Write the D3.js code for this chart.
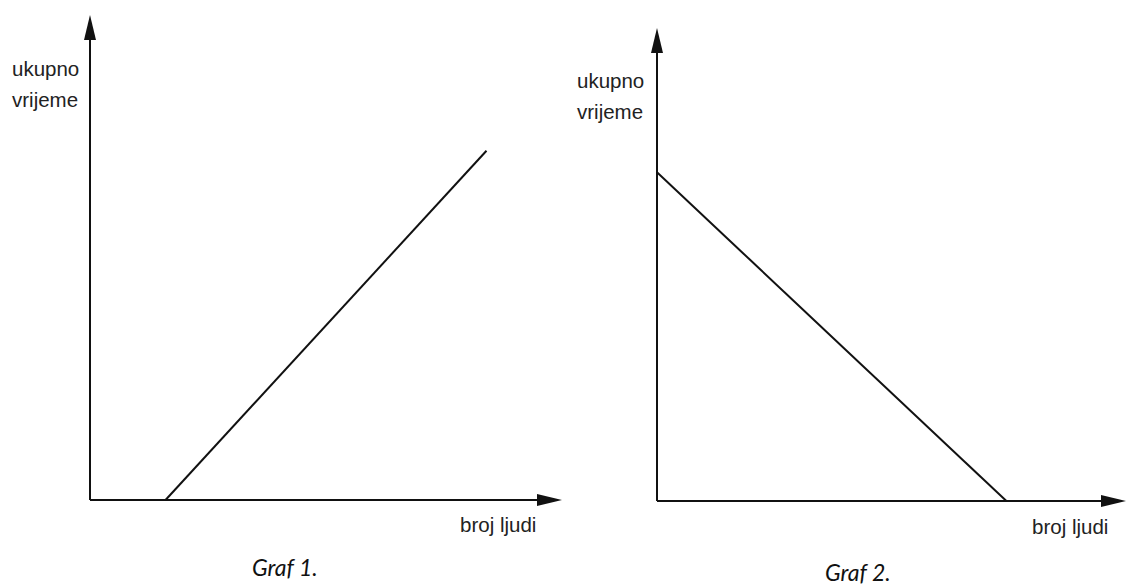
<!DOCTYPE html>
<html>
<head>
<meta charset="utf-8">
<script src="https://cdn.jsdelivr.net/npm/d3@7"></script>
<style>
  body { margin: 0; background: #fff; }
  svg { display: block; }
  .lbl { font-family: "Liberation Sans", Arial, sans-serif; font-size: 20.5px; fill: #222; }
  .cap { font-family: Lato, "Open Sans", sans-serif; font-style: italic; font-size: 23px; fill: #111; }
</style>
</head>
<body>
<svg id="chart"></svg>
<script>
// axis labels
var yLabel = ['ukupno', 'vrijeme'],
    xLabel = 'broj ljudi',
    captions = ['Graf 1.', 'Graf 2.'];

// line endpoints, in axis units (0..100)
var graf1X = [16, 84],
    graf1Y = [0, 72];
var graf2X = [0, 74.5],
    graf2Y = [69.5, 0];

var width = 1127, height = 585;
var svg = d3.select('#chart').attr('width', width).attr('height', height);

var panels = [
    { x: graf1X, y: graf1Y, ox: 90, oy: 500, xEnd: 562, yEnd: 15,
      yl: [12, 76], xl: [460, 532], cap: [252, 576] },
    { x: graf2X, y: graf2Y, ox: 657, oy: 501, xEnd: 1126, yEnd: 28,
      yl: [577, 88], xl: [1032, 534], cap: [825, 581] }
];

panels.forEach(function(p, i) {
    var g = svg.append('g');

    var x = d3.scaleLinear().domain([0, 100]).range([p.ox, p.xEnd]),
        y = d3.scaleLinear().domain([0, 100]).range([p.oy, p.yEnd]);

    // axes
    g.append('line')
        .attr('x1', x(0)).attr('y1', y(0))
        .attr('x2', x(100) - 10).attr('y2', y(0))
        .attr('stroke', '#111').attr('stroke-width', 2);
    g.append('line')
        .attr('x1', x(0)).attr('y1', y(0))
        .attr('x2', x(0)).attr('y2', y(100) + 10)
        .attr('stroke', '#111').attr('stroke-width', 2);

    // arrow heads
    var ax = x(100), ay = y(0);
    g.append('path')
        .attr('d', 'M' + ax + ',' + ay + 'L' + (ax - 25) + ',' + (ay - 6) + 'L' + (ax - 25) + ',' + (ay + 6) + 'Z')
        .attr('fill', '#111');
    var bx = x(0), by = y(100);
    g.append('path')
        .attr('d', 'M' + bx + ',' + by + 'L' + (bx - 6) + ',' + (by + 25) + 'L' + (bx + 6) + ',' + (by + 25) + 'Z')
        .attr('fill', '#111');

    // the line
    var line = d3.line()
        .x(function(d) { return x(d[0]); })
        .y(function(d) { return y(d[1]); });
    g.append('path')
        .datum(d3.zip(p.x, p.y))
        .attr('d', line)
        .attr('fill', 'none')
        .attr('stroke', '#111')
        .attr('stroke-width', 2);

    // labels
    var t = g.append('text').attr('class', 'lbl')
        .attr('x', p.yl[0]).attr('y', p.yl[1]);
    t.selectAll('tspan').data(yLabel).enter().append('tspan')
        .attr('x', p.yl[0])
        .attr('dy', function(d, j) { return j ? 31 : 0; })
        .text(function(d) { return d; });

    g.append('text').attr('class', 'lbl')
        .attr('x', p.xl[0]).attr('y', p.xl[1])
        .text(xLabel);

    g.append('text').attr('class', 'cap')
        .attr('x', p.cap[0]).attr('y', p.cap[1])
        .text(captions[i]);
});
</script>
</body>
</html>
